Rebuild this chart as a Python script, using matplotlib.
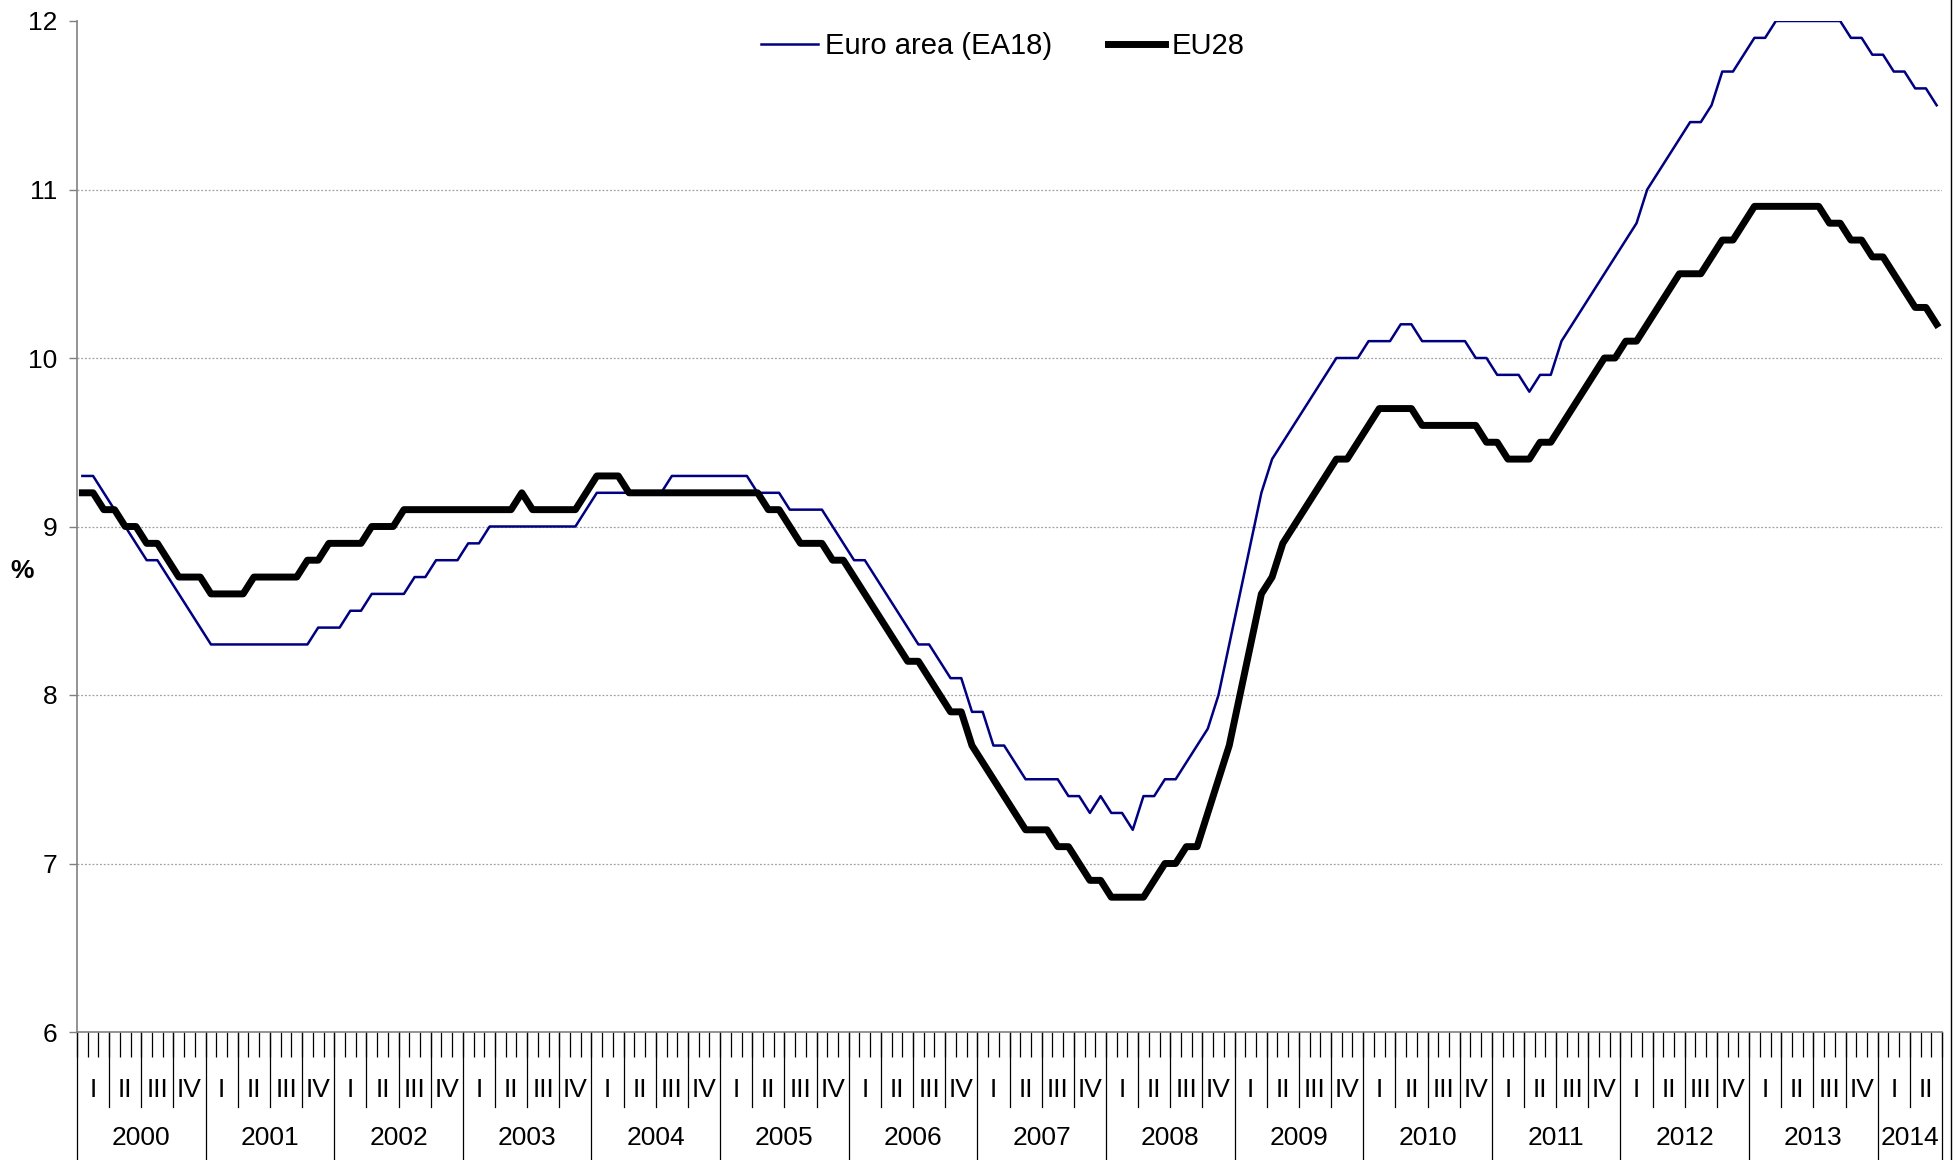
import matplotlib
matplotlib.use("Agg")
import matplotlib.pyplot as plt
from matplotlib.lines import Line2D

plt.rcParams['font.family'] = ['Liberation Sans', 'DejaVu Sans']

# monthly unemployment rate, Jan 2000 - Jun 2014 (%)
ea18 = [
    9.3, 9.3, 9.2, 9.1, 9.0, 8.9, 8.8, 8.8, 8.7, 8.6, 8.5, 8.4,      # 2000
    8.3, 8.3, 8.3, 8.3, 8.3, 8.3, 8.3, 8.3, 8.3, 8.3, 8.4, 8.4,      # 2001
    8.4, 8.5, 8.5, 8.6, 8.6, 8.6, 8.6, 8.7, 8.7, 8.8, 8.8, 8.8,      # 2002
    8.9, 8.9, 9.0, 9.0, 9.0, 9.0, 9.0, 9.0, 9.0, 9.0, 9.0, 9.1,      # 2003
    9.2, 9.2, 9.2, 9.2, 9.2, 9.2, 9.2, 9.3, 9.3, 9.3, 9.3, 9.3,      # 2004
    9.3, 9.3, 9.3, 9.2, 9.2, 9.2, 9.1, 9.1, 9.1, 9.1, 9.0, 8.9,      # 2005
    8.8, 8.8, 8.7, 8.6, 8.5, 8.4, 8.3, 8.3, 8.2, 8.1, 8.1, 7.9,      # 2006
    7.9, 7.7, 7.7, 7.6, 7.5, 7.5, 7.5, 7.5, 7.4, 7.4, 7.3, 7.4,      # 2007
    7.3, 7.3, 7.2, 7.4, 7.4, 7.5, 7.5, 7.6, 7.7, 7.8, 8.0, 8.3,      # 2008
    8.6, 8.9, 9.2, 9.4, 9.5, 9.6, 9.7, 9.8, 9.9, 10.0, 10.0, 10.0,   # 2009
    10.1, 10.1, 10.1, 10.2, 10.2, 10.1, 10.1, 10.1, 10.1, 10.1, 10.0, 10.0,  # 2010
    9.9, 9.9, 9.9, 9.8, 9.9, 9.9, 10.1, 10.2, 10.3, 10.4, 10.5, 10.6,  # 2011
    10.7, 10.8, 11.0, 11.1, 11.2, 11.3, 11.4, 11.4, 11.5, 11.7, 11.7, 11.8,  # 2012
    11.9, 11.9, 12.0, 12.0, 12.0, 12.0, 12.0, 12.0, 12.0, 11.9, 11.9, 11.8,  # 2013
    11.8, 11.7, 11.7, 11.6, 11.6, 11.5,                               # 2014
]
eu28 = [
    9.2, 9.2, 9.1, 9.1, 9.0, 9.0, 8.9, 8.9, 8.8, 8.7, 8.7, 8.7,      # 2000
    8.6, 8.6, 8.6, 8.6, 8.7, 8.7, 8.7, 8.7, 8.7, 8.8, 8.8, 8.9,      # 2001
    8.9, 8.9, 8.9, 9.0, 9.0, 9.0, 9.1, 9.1, 9.1, 9.1, 9.1, 9.1,      # 2002
    9.1, 9.1, 9.1, 9.1, 9.1, 9.2, 9.1, 9.1, 9.1, 9.1, 9.1, 9.2,      # 2003
    9.3, 9.3, 9.3, 9.2, 9.2, 9.2, 9.2, 9.2, 9.2, 9.2, 9.2, 9.2,      # 2004
    9.2, 9.2, 9.2, 9.2, 9.1, 9.1, 9.0, 8.9, 8.9, 8.9, 8.8, 8.8,      # 2005
    8.7, 8.6, 8.5, 8.4, 8.3, 8.2, 8.2, 8.1, 8.0, 7.9, 7.9, 7.7,      # 2006
    7.6, 7.5, 7.4, 7.3, 7.2, 7.2, 7.2, 7.1, 7.1, 7.0, 6.9, 6.9,      # 2007
    6.8, 6.8, 6.8, 6.8, 6.9, 7.0, 7.0, 7.1, 7.1, 7.3, 7.5, 7.7,      # 2008
    8.0, 8.3, 8.6, 8.7, 8.9, 9.0, 9.1, 9.2, 9.3, 9.4, 9.4, 9.5,      # 2009
    9.6, 9.7, 9.7, 9.7, 9.7, 9.6, 9.6, 9.6, 9.6, 9.6, 9.6, 9.5,      # 2010
    9.5, 9.4, 9.4, 9.4, 9.5, 9.5, 9.6, 9.7, 9.8, 9.9, 10.0, 10.0,    # 2011
    10.1, 10.1, 10.2, 10.3, 10.4, 10.5, 10.5, 10.5, 10.6, 10.7, 10.7, 10.8,  # 2012
    10.9, 10.9, 10.9, 10.9, 10.9, 10.9, 10.9, 10.8, 10.8, 10.7, 10.7, 10.6,  # 2013
    10.6, 10.5, 10.4, 10.3, 10.3, 10.2,                               # 2014
]
years = list(range(2000, 2015))
quarters = ['I', 'II', 'III', 'IV']
yticks = [6, 7, 8, 9, 10, 11, 12]

W, H = 1955, 1160
fig = plt.figure(figsize=(W / 100, H / 100), dpi=100)
# axes in pixel terms: x 77..1942, y 21..1032
ax = fig.add_axes([77 / W, 1 - 1032 / H, (1942 - 77) / W, (1032 - 21) / H])

n = len(ea18)
months = list(range(n))
ax.plot(months, ea18, color='#000080', lw=1.8, label='Euro area (EA18)', zorder=3)
ax.plot(months, eu28, color='black', lw=5, label='EU28', zorder=4)

ax.set_xlim(-0.5, n - 0.5)
ax.set_ylim(6, 12)
ax.set_yticks(yticks)
ax.set_yticklabels([str(v) for v in yticks], fontsize=19)
ax.tick_params(axis='y', length=6, width=1, color='#808080', pad=8)

# dotted horizontal gridlines
for v in yticks[1:-1]:
    ax.axhline(v, color='#a0a0a0', lw=0.9, ls=(0, (1.5, 1.5)), zorder=1)

for s in ['top', 'right']:
    ax.spines[s].set_visible(False)
for s in ['left', 'bottom']:
    ax.spines[s].set_color('#808080')
    ax.spines[s].set_linewidth(1.2)

# month ticks
ax.set_xticks([m - 0.5 for m in range(n + 1)])
ax.set_xticklabels([])
ax.tick_params(axis='x', length=18, width=0.9, color='black', direction='out')

tr = ax.get_xaxis_transform()
ax_h = 1032 - 21
q_bottom = -(1107 - 1032) / ax_h
y_bottom = -(1160 - 1032) / ax_h

# quarter separators and labels
for k in range(n // 3):
    start = 3 * k - 0.5
    if k % 4 != 0:
        ax.plot([start, start], [0, q_bottom], color='black', lw=0.9,
                transform=tr, clip_on=False)
    ax.text(start + 1.5, -(1090 - 1032) / ax_h, quarters[k % 4],
            transform=tr, ha='center', va='center', fontsize=19)

# year separators and labels
for j, yr in enumerate(years):
    start = 12 * j - 0.5
    end = min(start + 12, n - 0.5)
    ax.plot([start, start], [0, y_bottom], color='black', lw=0.9,
            transform=tr, clip_on=False)
    ax.text((start + end) / 2, -(1138 - 1032) / ax_h, str(yr),
            transform=tr, ha='center', va='center', fontsize=19)
ax.plot([n - 0.5, n - 0.5], [0, y_bottom], color='black', lw=0.9,
        transform=tr, clip_on=False)

fig.text(22 / W, 1 - 571 / H, '%', fontsize=19, fontweight='bold',
         ha='center', va='center')

ax.legend(loc='center', bbox_to_anchor=((1003 - 77) / 1865, (1032 - 46) / ax_h),
          ncol=2, frameon=False, fontsize=21, handlelength=1.95,
          handletextpad=0.25, columnspacing=1.9, borderpad=0)

fig.add_artist(Line2D([1951 / W, 1951 / W], [0, 1], color='black', lw=1))

fig.savefig('out.png', dpi=100)
